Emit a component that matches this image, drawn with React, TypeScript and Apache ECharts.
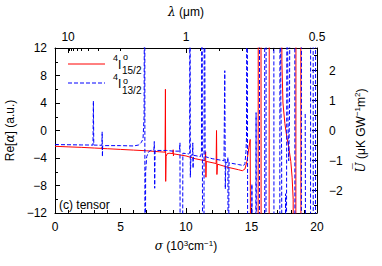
import React, { useEffect, useRef } from 'react';
import * as echarts from 'echarts';

// sigma in 10^3 cm^-1
const sigmaLabels = [0, 5, 10, 15, 20];
const alphaLabels = [-12, -8, -4, 0, 4, 8, 12];
const lambdaLabels = [10, 1, 0.5]; // µm
const lambdaMinor = [9, 8, 7, 6, 5, 4, 3, 2, 0.9, 0.8, 0.7, 0.6];
const uLabels = [-2, -1, 0, 1, 2];
const uMinor = [-2.5, -1.5, -0.5, 0.5, 1.5, 2.5];

// 4I°15/2 (red, solid): [sigma, Re alpha]
const red15: [number, number | null][] = [
  [0, -2.3], [1, -2.38], [2, -2.45], [3, -2.55], [3.58, -2.6], [3.6, -2.4], [3.62, -2.8], [3.64, -2.62],
  [4, -2.65], [5, -2.75], [6, -2.85], [7, -2.95], [8, -3.1], [8.4, -3.15], [8.43, 6.0], [8.45, -7.4],
  [8.48, -3.8], [8.55, -3.4], [8.7, -3.3], [9.0, -3.35], [9.02, -2.8], [9.04, -3.7], [9.06, -3.4],
  [10, -3.7], [10.7, -4.1], [11.45, -4.4], [11.5, -3.1], [11.52, -6.8], [11.55, -4.5], [12.3, -4.8],
  [12.33, 0], [12.36, -6.4], [12.4, -4.9], [13.2, -5.35], [14.0, -5.7], [14.3, -5.85], [14.5, -5.6],
  [14.65, -4.5], [14.8, -2.5], [14.9, -1.3], [14.96, -40], [15.5, -40], [15.52, 40], [15.72, 40],
  [15.74, -40], [16.34, -40], [16.36, 40], [17.28, 40], [17.32, 10], [17.4, 4], [17.55, 1], [17.7, -1],
  [17.85, -2.5], [18.0, -4.5], [18.1, -6.8], [18.18, -10], [18.22, -40], [18.38, -40], [18.4, 40],
  [18.76, 40], [18.78, -40], [20, -40]
];

// 4I°13/2 (blue, dashed): [sigma, Re alpha]
const blue13: [number, number | null][] = [
  [0, -2.05], [1, -2.07], [2, -2.1], [2.9, -2.12], [2.93, 4.3], [2.96, -2.12], [3.58, -2.15], [3.6, -0.2],
  [3.62, -3.8], [3.64, -2.2], [5, -2.2], [6, -2.25], [6.4, -2.1], [6.6, -1.7], [6.72, -1.2], [6.8, 2],
  [6.85, 40], [6.87, -40], [6.92, -6], [7.0, -3.8], [7.15, -3.1], [7.3, -2.9], [7.55, -2.85], [7.58, -1.6],
  [7.61, -8.4], [7.64, -2.9], [8.5, -2.9], [9.0, -3.0], [9.5, -3.0], [9.54, -1.8], [9.57, -40], [9.72, -40],
  [9.76, -3.3], [10.2, -3.4], [10.28, -3.3], [10.3, 40], [10.33, -6.8], [10.38, -3.6], [10.5, -3.5],
  [10.52, -1.8], [10.54, -5.5], [10.56, -3.6], [11.1, -3.8], [11.18, -3.3], [11.22, 40], [11.26, 40],
  [11.28, -40], [11.36, -40], [11.4, 40], [11.43, 40], [11.46, -3.8], [12, -4.1], [12.9, -4.4],
  [12.96, 8.7], [13.0, -8.5], [13.04, -4.6], [13.18, -4.7], [13.2, -3.9], [13.22, -40], [13.26, -40],
  [13.28, -4.7], [14.0, -4.95], [14.4, -5.1], [14.5, -4.8], [14.58, -3], [14.62, -1], [14.66, 40],
  [14.68, 40], [14.7, -6.7], [14.72, -40], [15.0, -40], [15.03, -7.8], [15.06, -40], [15.3, -40],
  [15.35, 2.6], [15.4, -40], [15.6, -40], [15.62, 40], [16.0, 40], [16.02, -40], [16.1, -40], [16.12, 40],
  [16.7, 40], [16.72, -40], [17.15, -40], [17.18, 40], [17.2, 40], [17.24, 4], [17.3, -3], [17.33, -40],
  [17.55, -40], [17.6, -9.2], [17.65, -40], [17.7, -40], [17.72, 40], [17.78, 2], [17.84, -4.4],
  [17.9, 2], [17.96, 40], [18.3, 40], [18.32, -40], [18.8, -40], [18.82, 40], [19.05, 40], [19.08, null],
  [19.1, 2.4], [19.15, -40], [19.5, -40], [19.52, 40], [19.7, 40], [19.72, -40], [19.88, -40], [19.9, 40],
  [20, 40]
];

const FONT = 'Liberation Sans, Arial, Helvetica, sans-serif';
const BLACK = '#000';

export default function App() {
  const ref = useRef<HTMLDivElement>(null);
  useEffect(() => {
    document.body.style.margin = '0';
    const chart = echarts.init(ref.current!, null, { renderer: 'svg' });
    const axisCommon = {
      axisLine: { show: true, onZero: false, lineStyle: { color: BLACK, width: 1 } },
      splitLine: { show: false },
      axisLabel: { color: BLACK, fontSize: 12, fontFamily: FONT },
      nameTextStyle: { color: BLACK, fontSize: 12, fontFamily: FONT },
    };
    const sup = { fontSize: 8, fontFamily: FONT, color: BLACK, verticalAlign: 'bottom', padding: [0, 0, 6, 0] };
    const it = { fontSize: 12, fontFamily: 'DejaVu Serif, serif', fontStyle: 'italic', color: BLACK };
    const small = (text: string, x: number, y: number, size = 9) => ({
      type: 'text', x, y, style: { text, fontSize: size, fontFamily: FONT, fill: BLACK, textVerticalAlign: 'middle' },
    });
    const option: any = {
      animation: false,
      textStyle: { fontFamily: FONT },
      grid: { left: 55, right: 65, top: 48, bottom: 53, containLabel: false, outerBoundsMode: 'none' },
      xAxis: [
        {
          ...axisCommon,
          type: 'value', position: 'bottom', min: 0, max: 20, interval: 5,
          axisTick: { show: true, inside: true, length: 5, lineStyle: { color: BLACK } },
          minorTick: { show: true, splitNumber: 5, length: 3, lineStyle: { color: BLACK } },
          axisLabel: { ...axisCommon.axisLabel, margin: 8, customValues: sigmaLabels },
          name: '{i|σ} (10{s|3}cm{s|−1})', nameLocation: 'middle', nameGap: 26,
          nameTextStyle: { ...axisCommon.nameTextStyle, rich: { i: it, s: sup } },
        },
        {
          ...axisCommon,
          type: 'value', position: 'top', min: 0, max: 20,
          axisTick: { show: true, inside: true, length: 5, lineStyle: { color: BLACK }, customValues: lambdaLabels.map((l) => 10 / l) },
          axisLabel: {
            ...axisCommon.axisLabel, margin: 5, customValues: lambdaLabels.map((l) => 10 / l),
            formatter: (v: number) => String(Math.round((10 / v) * 100) / 100),
          },
          name: '{i|λ} (μm)', nameLocation: 'middle', nameGap: 30,
          nameTextStyle: { ...axisCommon.nameTextStyle, rich: { i: it } },
        },
        {
          type: 'value', position: 'top', min: 0, max: 20,
          axisLine: { show: false, onZero: false }, splitLine: { show: false },
          axisLabel: { show: false },
          axisTick: { show: true, inside: true, length: 3, lineStyle: { color: BLACK }, customValues: lambdaMinor.map((l) => 10 / l) },
        },
      ],
      yAxis: [
        {
          ...axisCommon,
          type: 'value', position: 'left', min: -12, max: 12, interval: 4,
          axisTick: { show: true, inside: true, length: 5, lineStyle: { color: BLACK } },
          minorTick: { show: true, splitNumber: 2, length: 3, lineStyle: { color: BLACK } },
          axisLabel: { ...axisCommon.axisLabel, margin: 8, customValues: alphaLabels,
            formatter: (v: number) => (v < 0 ? '−' + Math.abs(v) : String(v)) },
          name: 'Re[{i|α}] (a.u.)', nameLocation: 'middle', nameGap: 33, nameRotate: 90,
          nameTextStyle: { ...axisCommon.nameTextStyle, rich: { i: it } },
        },
        {
          ...axisCommon,
          type: 'value', position: 'right', min: -2.75, max: 2.75,
          axisTick: { show: true, inside: true, length: 5, lineStyle: { color: BLACK }, customValues: uLabels },
          axisLabel: { ...axisCommon.axisLabel, margin: 12, customValues: uLabels,
            formatter: (v: number) => (v < 0 ? '−' + Math.abs(v) : String(v)) },
          name: '{i|U\u0305} (μK GW{s|−1}m{s|2})', nameLocation: 'middle', nameGap: 33, nameRotate: 90,
          nameTextStyle: { ...axisCommon.nameTextStyle, rich: { i: it, s: sup } },
        },
        {
          type: 'value', position: 'right', min: -2.75, max: 2.75,
          axisLine: { show: false, onZero: false }, splitLine: { show: false }, axisLabel: { show: false },
          axisTick: { show: true, inside: true, length: 3, lineStyle: { color: BLACK }, customValues: uMinor },
        },
      ],
      series: [
        {
          name: '4I15/2', type: 'line', data: red15, xAxisIndex: 0, yAxisIndex: 0,
          showSymbol: false, symbol: 'none', clip: true, connectNulls: false,
          lineStyle: { color: '#ff0000', width: 1 },
        },
        {
          name: '4I13/2', type: 'line', data: blue13, xAxisIndex: 0, yAxisIndex: 0,
          showSymbol: false, symbol: 'none', clip: true, connectNulls: false,
          lineStyle: { color: '#0000ff', width: 1, type: [4, 2] },
        },
      ],
      graphic: [
        { type: 'line', shape: { x1: 68, y1: 64, x2: 105, y2: 64 }, style: { stroke: '#ff0000', lineWidth: 1 } },
        { type: 'line', shape: { x1: 68, y1: 83, x2: 105, y2: 83 }, style: { stroke: '#0000ff', lineWidth: 1, lineDash: [4, 2] } },
        small('4', 113, 58),
        small('I', 118, 65, 12),
        small('o', 123, 57),
        small('15/2', 122, 70, 10),
        small('4', 113, 77),
        small('I', 118, 84, 12),
        small('o', 123, 80.5),
        small('13/2', 122, 90, 10),
        { type: 'text', x: 59, y: 205, style: { text: '(c) tensor', fontSize: 12, fontFamily: FONT, fill: BLACK, textVerticalAlign: 'middle' } },
      ],
    };
    chart.setOption(option);
    return () => chart.dispose();
  }, []);
  return <div ref={ref} style={{ width: 382, height: 266 }} />;
}
